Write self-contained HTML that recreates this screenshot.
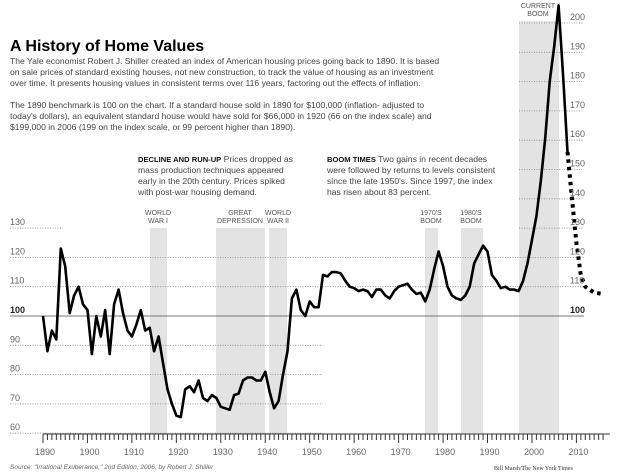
<!DOCTYPE html>
<html><head><meta charset="utf-8"><style>
html,body{margin:0;padding:0;background:#fff;}
svg{display:block;font-family:"Liberation Sans",sans-serif;}
</style></head><body>
<svg id="s" width="619" height="474" viewBox="0 0 619 474" xmlns="http://www.w3.org/2000/svg">
<g fill="#e3e3e3">
<rect x="150" y="228" width="17" height="206"/>
<rect x="216" y="228" width="49" height="206"/>
<rect x="269" y="228" width="18" height="206"/>
<rect x="425" y="228" width="13" height="206"/>
<rect x="461" y="228" width="22" height="206"/>
<rect x="519" y="21" width="40" height="413"/>
</g>
<g id="grid" stroke="#888" stroke-width="0.8" stroke-dasharray="1,1.5"></g>
<line x1="10" y1="316" x2="584" y2="316" stroke="#777" stroke-width="1"/>
<g id="ticks" stroke="#333" stroke-width="1"></g>
<line x1="43" y1="434" x2="610" y2="434" stroke="#333" stroke-width="1"/>
<path id="line" fill="none" stroke="#000" stroke-width="2.6" stroke-linejoin="round"/>
<path id="dot" fill="none" stroke="#000" stroke-width="4" stroke-dasharray="3.5,4"/>
<g font-size="9" fill="#666" id="lbl"></g>
<g font-size="7" fill="#555" text-anchor="middle">
<text x="158" y="215">WORLD</text><text x="158" y="223">WAR I</text>
<text x="240" y="215">GREAT</text><text x="240" y="223">DEPRESSION</text>
<text x="278" y="215">WORLD</text><text x="278" y="223">WAR II</text>
<text x="431" y="215">1970'S</text><text x="431" y="223">BOOM</text>
<text x="471" y="215">1980'S</text><text x="471" y="223">BOOM</text>
<text x="538" y="8">CURRENT</text><text x="538" y="16">BOOM</text>
</g>
<text x="10" y="51" font-size="16" font-weight="bold" fill="#000">A History of Home Values</text>
<g font-size="8.6" fill="#444">
<text x="10" y="64">The Yale economist Robert J. Shiller created an index of American housing prices going back to 1890. It is based</text>
<text x="10" y="75">on sale prices of standard existing houses, not new construction, to track the value of housing as an investment</text>
<text x="10" y="86">over time. It presents housing values in consistent terms over 116 years, factoring out the effects of inflation.</text>
<text x="10" y="108">The 1890 benchmark is 100 on the chart. If a standard house sold in 1890 for $100,000 (inflation- adjusted to</text>
<text x="10" y="119">today's dollars), an equivalent standard house would have sold for $66,000 in 1920 (66 on the index scale) and</text>
<text x="10" y="130">$199,000 in 2006 (199 on the index scale, or 99 percent higher than 1890).</text>
<text x="138" y="162"><tspan font-weight="bold" fill="#111" font-size="7.6">DECLINE AND RUN-UP</tspan>  Prices dropped as</text>
<text x="138" y="173">mass production techniques appeared</text>
<text x="138" y="184">early in the 20th century. Prices spiked</text>
<text x="138" y="195">with post-war housing demand.</text>
<text x="327" y="162"><tspan font-weight="bold" fill="#111" font-size="7.6">BOOM TIMES</tspan>  Two gains in recent decades</text>
<text x="327" y="173">were followed by returns to levels consistent</text>
<text x="327" y="184">since the late 1950's. Since 1997, the index</text>
<text x="327" y="195">has risen about 83 percent.</text>
</g>
<text x="10" y="469" font-size="6.5" font-style="italic" fill="#666">Source: "Irrational Exuberance," 2nd Edition, 2006, by Robert J. Shiller</text>
<text x="494" y="470" font-size="6" fill="#333" font-family="Liberation Serif,serif">Bill Marsh/The New York Times</text>
</svg>
<script>
var X=function(y){return 43+4.445*(y-1890)},Y=function(v){return 316-(v-100)*2.93};
var d=[100,88,95,92,123,117,101,107,110,104,102,87,100,93,102,87,104,109,101,95,93,97,102,95,96,88,93,84,75,70,66,65.5,75,76,74,78,72,71,73,72,69,68.5,68,73,73.5,78,79,79,78,78,81,74,68.5,71,80,88,106,109,102,100,105,103,103,114,113.5,115,115,114.5,112,110,109.5,108.5,109,108.5,106.5,109,109,107,106,108.5,110,110.5,111,109,107.5,108,105,109,116,122,117,110,107,106,105.5,107,110,118,121,124,122,114,112,109.5,110,109,109,108.5,112,118,126,134,146,161,180,192,206,182,156];
var p="";d.forEach(function(v,i){p+=(i?"L":"M")+X(1890+i).toFixed(1)+","+Y(v).toFixed(1)});
document.getElementById("line").setAttribute("d",p);
var q=[[2008,156],[2009,140],[2010,125],[2011,114],[2012,110],[2014,108],[2016,107.5]];
document.getElementById("dot").setAttribute("d","M"+q.map(function(a){return X(a[0]).toFixed(1)+","+Y(a[1]).toFixed(1)}).join("L"));
var g=document.getElementById("grid"),ns="http://www.w3.org/2000/svg",lb=document.getElementById("lbl");
function ln(par,x1,y1,x2,y2){var l=document.createElementNS(ns,"line");l.setAttribute("x1",x1);l.setAttribute("y1",y1);l.setAttribute("x2",x2);l.setAttribute("y2",y2);par.appendChild(l);}
function tx(x,y,s,b){var t=document.createElementNS(ns,"text");t.setAttribute("x",x);t.setAttribute("y",y);t.textContent=s;if(b){t.setAttribute("font-weight","bold");t.setAttribute("fill","#222");}lb.appendChild(t);}
[60,70,80,90].forEach(function(v){ln(g,10,Y(v),323,Y(v));tx(10,Y(v)-3,v)});
ln(g,10,Y(130),63,Y(130));tx(10,Y(130)-3,130);
[110,120].forEach(function(v){ln(g,10,Y(v),584,Y(v));tx(10,Y(v)-3,v);tx(570,Y(v)-3,v)});
tx(10,Y(100)-3,100,1);tx(570,Y(100)-3,100,1);
for(var v=130;v<=200;v+=10){ln(g,519,Y(v),584,Y(v));tx(570,Y(v)-3,v);}
var tk=document.getElementById("ticks");
for(var y=1890;y<=2016;y++){ln(tk,X(y),434,X(y),y%10==0?443:440);}
for(var y=1890;y<=2010;y+=10){tx(X(y)-8,455,y);}
</script>
</body></html>
